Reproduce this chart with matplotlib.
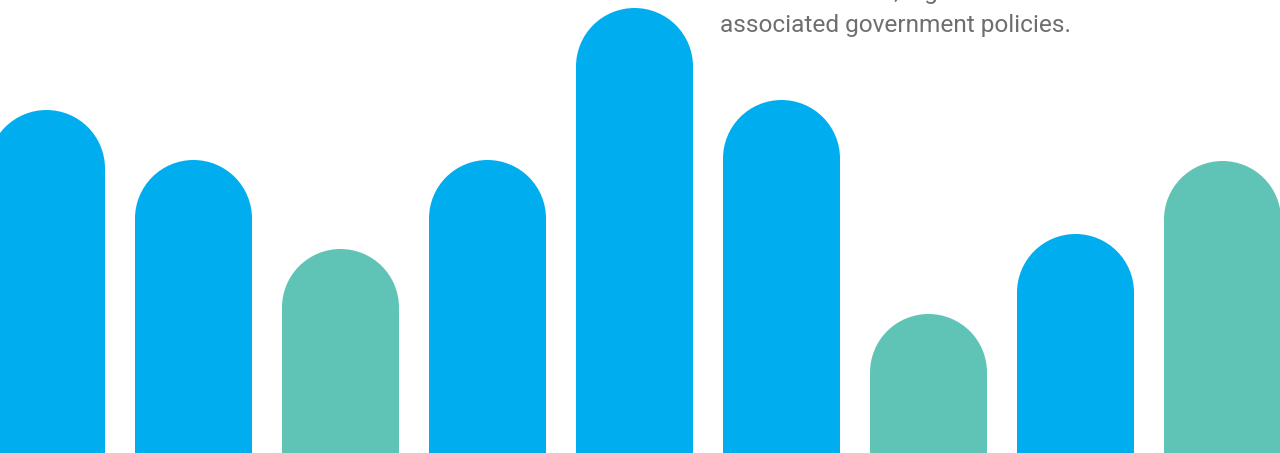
import matplotlib
matplotlib.use("Agg")
import matplotlib.pyplot as plt
from matplotlib.patches import Circle

# bar heights (measured from the bottom edge, in pixel-like units)
values = [343, 293, 204, 293, 445, 353, 139, 219, 292]
groups = ["blue", "blue", "teal", "blue", "blue", "blue", "teal", "blue", "teal"]
palette = {"blue": "#00AEEF", "teal": "#5FC3B6"}

caption_lines = ["the local market, a great", "associated government policies."]

W, H = 1280, 453
fig = plt.figure(figsize=(W / 100, H / 100), dpi=100)
ax = fig.add_axes([0, 0, 1, 1])
ax.set_xlim(0, W)
ax.set_ylim(0, H)
ax.axis("off")

width = 117
r = width / 2
xs = [46.5 + 147 * i for i in range(len(values))]

for x, v, g in zip(xs, values, groups):
    c = palette[g]
    ax.bar(x, v - r, width=width, bottom=0, color=c, linewidth=0, snap=False)
    ax.add_patch(Circle((x, v - r), r, facecolor=c, edgecolor="none", snap=False))

# caption text in the top-right, partly clipped by the image edge
for i, line in enumerate(caption_lines):
    ax.text(720, H - 32 + 32.5 * (1 - i), line, fontsize=17.6, color="#6e6e6e",
            family="Roboto", va="baseline", ha="left")

fig.savefig("out.png", dpi=100)
